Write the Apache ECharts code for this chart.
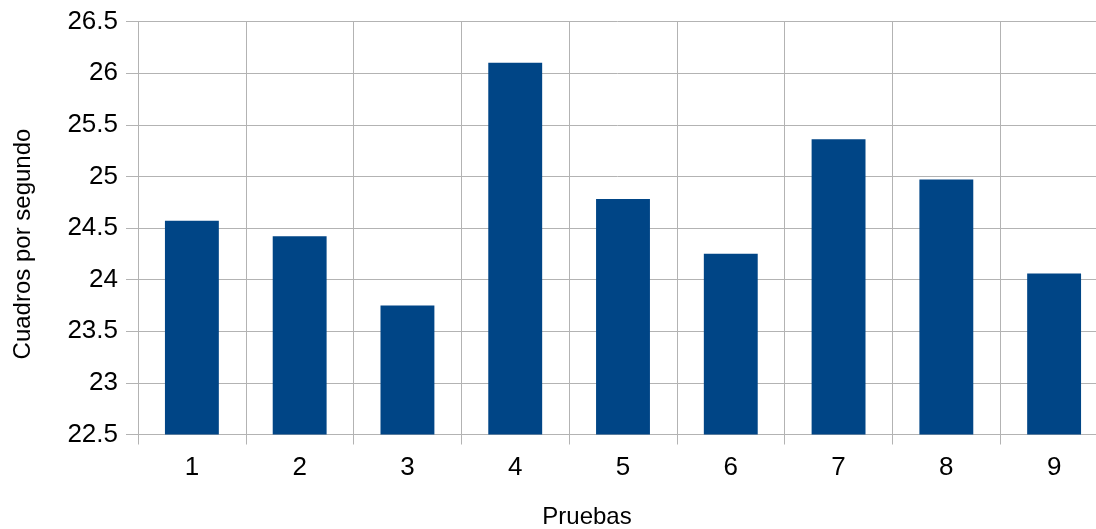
<!DOCTYPE html>
<html>
<head>
<meta charset="utf-8">
<script src="https://cdn.jsdelivr.net/npm/echarts@6/dist/echarts.min.js"></script>
<style>html,body{margin:0;padding:0;background:#fff}#c{width:1096px;height:529px}</style>
</head>
<body>
<div id="c"></div>
<script>
const categories = ['1','2','3','4','5','6','7','8','9'];
const values = [24.57, 24.42, 23.75, 26.10, 24.78, 24.25, 25.36, 24.97, 24.06];
const xTitle = 'Pruebas';
const yTitle = 'Cuadros por segundo';

const grey = '#b3b3b3';
const font = '"Liberation Sans", Arial, sans-serif';
const chart = echarts.init(document.getElementById('c'), null, {renderer: 'canvas'});
chart.setOption({
  animation: false,
  backgroundColor: '#ffffff',
  grid: {left: 138, top: 21.5, width: 970, bottom: 94.5, containLabel: false, outerBoundsMode: 'none'},
  xAxis: {
    type: 'category',
    data: categories,
    boundaryGap: true,
    name: xTitle,
    nameLocation: 'middle',
    nameGap: 71,
    nameTextStyle: {fontFamily: font, fontSize: 24, color: '#000', padding: [0, 72, 0, 0]},
    axisLine: {show: true, lineStyle: {color: grey, width: 1}},
    axisTick: {show: true, length: 10, lineStyle: {color: grey}},
    axisLabel: {fontFamily: font, fontSize: 26, color: '#000', margin: 20},
    splitLine: {show: true, lineStyle: {color: grey, width: 1}}
  },
  yAxis: {
    type: 'value',
    min: 22.5,
    max: 26.5,
    interval: 0.5,
    name: yTitle,
    nameLocation: 'middle',
    nameGap: 103,
    nameRotate: 90,
    nameTextStyle: {fontFamily: font, fontSize: 24, color: '#000', padding: [0, 32, 0, 0]},
    axisLine: {show: true, lineStyle: {color: grey, width: 1}},
    axisTick: {show: true, length: 12, lineStyle: {color: grey}},
    axisLabel: {fontFamily: font, fontSize: 26, color: '#000', margin: 20},
    splitLine: {show: true, lineStyle: {color: grey, width: 1}}
  },
  series: [{
    type: 'bar',
    data: values,
    barWidth: '50%',
    itemStyle: {color: '#004586'}
  }]
});
</script>
</body>
</html>
